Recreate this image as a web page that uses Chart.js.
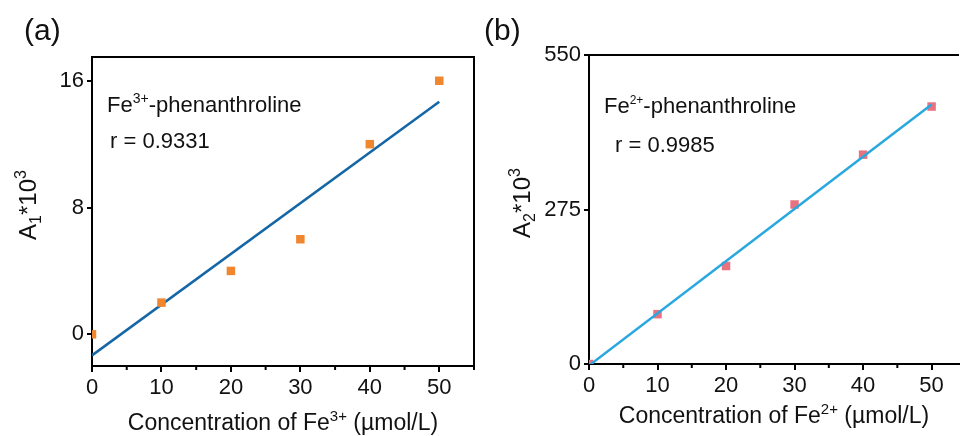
<!DOCTYPE html>
<html>
<head>
<meta charset="utf-8">
<script src="https://cdn.jsdelivr.net/npm/chart.js@4.4.1/dist/chart.umd.min.js"></script>
<style>
  html, body { margin: 0; padding: 0; background: #fff; overflow: hidden; }
  #wrap { position: relative; width: 965px; height: 436px; }
  #chartA { position: absolute; left: 0; top: 0; }
  #chartB { position: absolute; left: 480px; top: 0; }
</style>
</head>
<body>
<div id="wrap">
  <canvas id="chartA" width="480" height="436"></canvas>
  <canvas id="chartB" width="485" height="436"></canvas>
</div>
<script>
// concentrations (µmol/L)
const conc = [0, 10, 20, 30, 40, 50];
// panel (a): Fe3+-phenanthroline, A1*10^3
const absA = [0, 2, 4, 6, 12, 16];
const fitXA = [0, 50];
const fitYA = [-1.33, 14.67];
// panel (b): Fe2+-phenanthroline, A2*10^3
const absB = [0, 88.7, 174.4, 283.9, 372.6, 458.3];
const fitXB = [0, 50];
const fitYB = [-2.7, 462];
// tick labels
const xTicks = [0, 10, 20, 30, 40, 50];
const xMinor = [5, 15, 25, 35, 45, 55];
const yTicksA = [0, 8, 16];
const yTicksB = [0, 275, 550];

const FONT = '"Liberation Sans", Arial, sans-serif';

function runsWidth(ctx, parts) {
  let w = 0;
  for (const p of parts) {
    ctx.font = p[1] + "px " + FONT;
    w += ctx.measureText(p[0]).width;
  }
  return w;
}
function drawRuns(ctx, parts, x, y) {
  for (const p of parts) {
    ctx.font = p[1] + "px " + FONT;
    ctx.fillText(p[0], x, y + (p[2] || 0));
    x += ctx.measureText(p[0]).width;
  }
}

// frame, minor ticks, titles with super/subscripts, notes
const decor = {
  id: "decor",
  afterDraw(chart, args, o) {
    const ctx = chart.ctx, a = chart.chartArea, xs = chart.scales.x;
    ctx.save();
    ctx.strokeStyle = "#000";
    ctx.lineWidth = 2;
    ctx.beginPath();
    ctx.moveTo(a.left - 1, a.top);
    ctx.lineTo(a.right, a.top);
    if (o.right) ctx.lineTo(a.right, a.bottom);
    ctx.stroke();

    ctx.beginPath();
    for (const v of xMinor) {
      const px = xs.getPixelForValue(v);
      if (px > a.right + 1) continue;
      ctx.moveTo(px, a.bottom);
      ctx.lineTo(px, a.bottom + 4);
    }
    ctx.stroke();

    ctx.fillStyle = "#111";
    ctx.textAlign = "left";
    ctx.textBaseline = "alphabetic";
    let w = runsWidth(ctx, o.xTitle);
    drawRuns(ctx, o.xTitle, (a.left + a.right) / 2 - w / 2, o.xTitleY);

    ctx.save();
    ctx.translate(o.yTitleX, o.yTitleY);
    ctx.rotate(-Math.PI / 2);
    w = runsWidth(ctx, o.yTitle);
    drawRuns(ctx, o.yTitle, -w / 2, 0);
    ctx.restore();

    for (const n of o.notes) drawRuns(ctx, n.parts, n.x, n.y);

    ctx.font = "30px " + FONT;
    ctx.fillText(o.panel[0], o.panel[1], o.panel[2]);
    ctx.restore();
  }
};

function pts(xs, ys) {
  return xs.map((x, i) => ({ x: x, y: ys[i] }));
}

function makeChart(id, cfg) {
  return new Chart(document.getElementById(id), {
    type: "scatter",
    data: {
      datasets: [
        {
          data: pts(conc, cfg.values),
          pointStyle: "rect",
          pointRadius: 6,
          pointHoverRadius: 6,
          borderWidth: 0,
          backgroundColor: cfg.markColor,
          clip: 0,
          order: cfg.markOrder
        },
        {
          type: "line",
          data: pts(cfg.fitX, cfg.fitY),
          borderColor: cfg.lineColor,
          borderWidth: 2.5,
          pointRadius: 0,
          fill: false,
          clip: 0,
          order: 1
        }
      ]
    },
    options: {
      responsive: false,
      animation: false,
      events: [],
      layout: { padding: { left: 0, top: cfg.top, right: cfg.right, bottom: 0 } },
      plugins: {
        legend: { display: false },
        tooltip: { enabled: false },
        decor: cfg.decor
      },
      scales: {
        x: {
          type: "linear",
          min: 0,
          max: cfg.xMax,
          afterBuildTicks: (s) => { s.ticks = xTicks.map((v) => ({ value: v })); },
          afterFit: (s) => { s.height = cfg.xHeight; },
          grid: { display: true, drawOnChartArea: false, drawTicks: true, tickLength: 6, lineWidth: 2, color: "#000" },
          border: { display: true, width: 2, color: "#000" },
          ticks: { color: "#111", font: { family: FONT, size: 22 }, padding: 3, maxRotation: 0 }
        },
        y: {
          type: "linear",
          min: cfg.yMin,
          max: cfg.yMax,
          afterBuildTicks: (s) => { s.ticks = cfg.yTicks.map((v) => ({ value: v })); },
          afterFit: (s) => { s.width = cfg.yWidth; },
          grid: { display: true, drawOnChartArea: false, drawTicks: true, tickLength: 5, lineWidth: 2, color: "#000" },
          border: { display: true, width: 2, color: "#000" },
          ticks: { color: "#111", font: { family: FONT, size: 22 }, padding: 3 }
        }
      }
    },
    plugins: [decor]
  });
}

makeChart("chartA", {
  values: absA, fitX: fitXA, fitY: fitYA,
  markColor: "#F0862E", lineColor: "#1466A6", markOrder: 0,
  xMax: 55, yMin: -2, yMax: 17.5, yTicks: yTicksA,
  top: 57, right: 5, xHeight: 70, yWidth: 92,
  decor: {
    right: true,
    xTitle: [["Concentration of Fe", 23], ["3+", 15, -9], [" (\u00b5mol/L)", 23]],
    xTitleY: 430,
    yTitle: [["A", 24], ["1", 16, 5], ["*10", 24], ["3", 16, -10]],
    yTitleX: 36, yTitleY: 205,
    notes: [
      { parts: [["Fe", 22], ["3+", 14, -9], ["-phenanthroline", 22]], x: 107, y: 112 },
      { parts: [["r = 0.9331", 22]], x: 110, y: 148 }
    ],
    panel: ["(a)", 24, 40]
  }
});

makeChart("chartB", {
  values: absB, fitX: fitXB, fitY: fitYB,
  markColor: "#E8727F", lineColor: "#29A8DF", markOrder: 2,
  xMax: 54, yMin: 0, yMax: 550, yTicks: yTicksB,
  top: 55, right: 0, xHeight: 72, yWidth: 109,
  decor: {
    right: false,
    xTitle: [["Concentration of Fe", 23], ["2+", 15, -9], [" (\u00b5mol/L)", 23]],
    xTitleY: 423,
    yTitle: [["A", 24], ["2", 16, 5], ["*10", 24], ["3", 16, -10]],
    yTitleX: 50, yTitleY: 203,
    notes: [
      { parts: [["Fe", 22], ["2+", 12, -9], ["-phenanthroline", 22]], x: 604, y: 113 },
      { parts: [["r = 0.9985", 22]], x: 615, y: 152 }
    ].map((n) => ({ parts: n.parts, x: n.x - 480, y: n.y })),
    panel: ["(b)", 4, 40]
  }
});
</script>
</body>
</html>
